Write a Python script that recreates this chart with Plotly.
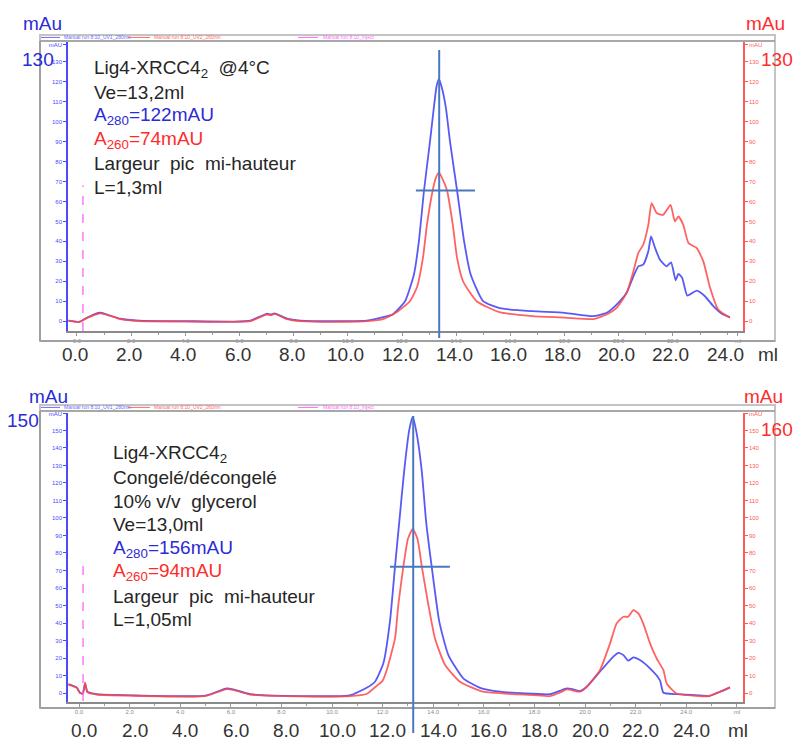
import plotly.graph_objects as go

# the page puts the figure 8 px in from the window corner, so the figure is
# 8 px smaller than the window and all placements are given in window pixels
OFF = 8
W, H = 801 - OFF, 740 - OFF

# ---- run 1 : Lig4-XRCC4 @4°C (ml, mAU) ----
top_ml_280 = [-0.32, 0.1, 0.36, 0.85, 1.1, 1.6, 2.3, 4.0, 5.8, 6.4, 7.0, 7.15, 7.3, 7.75, 8.25,
              10.0, 10.7, 11.3, 11.67, 12.11, 12.44, 12.62, 12.81, 13.03, 13.17, 13.27, 13.36,
              13.46, 13.62, 13.77, 14.03, 14.29, 14.53, 14.99, 15.6, 16.8, 18.0, 19.05, 19.55,
              19.92, 20.29, 20.54, 20.72, 20.9, 21.09, 21.19, 21.34, 21.52, 21.77, 21.93, 22.1,
              22.2, 22.34, 22.53, 22.88, 23.18, 23.49, 23.8, 24.1]
top_mau_280 = [0.3, -0.3, 1.7, 4.2, 3.3, 1.2, 0.3, 0.0, -0.2, 0.3, 3.7, 3.3, 3.9, 1.3, 0.3,
               0.0, 0.3, 2.0, 3.5, 10.0, 23.5, 40.0, 65.5, 90.0, 106.7, 117.5, 121.5,
               117.5, 106.7, 90.0, 65.5, 40.0, 23.5, 10.0, 6.5, 5.0, 4.2, 2.5, 4.2,
               8.3, 14.2, 22.5, 27.5, 28.3, 35.0, 42.5, 36.7, 30.8, 27.5, 29.5, 20.5,
               23.7, 21.7, 12.8, 15.3, 12.5, 7.5, 3.7, 2.0]

top_ml_260 = [-0.32, 0.1, 0.36, 0.85, 1.1, 1.6, 2.3, 4.0, 5.8, 6.4, 7.0, 7.15, 7.3, 7.75, 8.25,
              10.0, 10.7, 11.3, 11.85, 12.29, 12.55, 12.77, 12.92, 13.13, 13.25, 13.36, 13.47,
              13.66, 13.87, 14.03, 14.25, 14.75, 15.6, 16.8, 18.0, 19.05, 19.55, 19.92, 20.29,
              20.54, 20.72, 20.9, 21.09, 21.21, 21.4, 21.64, 21.91, 22.07, 22.2, 22.38, 22.57,
              22.87, 23.12, 23.37, 23.67, 24.1]
top_mau_260 = [0.3, -0.3, 1.5, 3.9, 3.3, 1.0, 0.0, -0.2, -0.4, 0.0, 3.3, 3.0, 3.6, 1.0, 0.0,
               -0.3, 0.0, 1.0, 5.0, 10.0, 17.0, 31.7, 48.5, 65.5, 72.0, 74.5, 72.0,
               65.5, 48.5, 31.7, 20.0, 10.0, 4.5, 2.5, 1.8, 1.0, 3.3, 6.7, 14.2,
               25.0, 34.2, 38.3, 48.3, 59.2, 54.2, 53.3, 58.3, 50.0, 52.5, 48.3, 39.2,
               36.7, 30.0, 16.7, 5.8, 1.7]

# ---- run 2 : congelé/décongelé, 10% glycerol ----
bot_ml_280 = [-0.42, -0.09, 0.04, 0.15, 0.24, 0.33, 0.7, 2.15, 4.78, 5.05, 5.84, 6.1, 6.76,
              8.74, 10.7, 11.37, 11.7, 12.03, 12.29, 12.49, 12.66, 12.85, 13.05, 13.19, 13.35,
              13.55, 13.72, 13.94, 14.24, 14.6, 15.19, 15.85, 16.64, 18.62, 19.0, 19.28, 19.54,
              19.8, 20.07, 20.59, 21.12, 21.32, 21.52, 21.71, 21.91, 22.17, 22.57, 22.96, 23.1,
              23.62, 24.55, 24.9, 25.34, 25.73]
bot_mau_280 = [5.1, 3.2, 0.2, -0.2, 5.5, 0.8, -0.6, -1.3, -1.7, -1.3, 2.7, 2.1, -0.6,
               -1.7, -1.3, 3.0, 6.5, 17.0, 40.8, 72.2, 97.9, 126.5, 150.0, 157.9, 148.0,
               126.5, 97.9, 72.2, 40.8, 21.7, 8.4, 3.0, 0.8, -0.6, 1.3, 2.7, 2.1,
               1.1, 3.6, 12.2, 20.8, 23.0, 21.7, 18.5, 20.4, 18.9, 14.1, 7.4, 0.2,
               -0.6, -1.3, -1.7, 0.8, 3.3]

bot_ml_260 = [-0.42, -0.09, 0.04, 0.15, 0.24, 0.33, 0.7, 2.15, 4.78, 5.05, 5.84, 6.1, 6.76,
              8.74, 10.7, 11.37, 11.63, 12.0, 12.16, 12.49, 12.62, 12.82, 13.0, 13.19, 13.38,
              13.55, 13.81, 14.07, 14.47, 15.06, 15.97, 17.96, 18.62, 19.0, 19.28, 19.8, 20.07,
              20.59, 20.99, 21.25, 21.52, 21.71, 21.91, 22.11, 22.3, 22.57, 22.83, 23.1, 23.23,
              23.62, 24.55, 24.9, 25.34, 25.73]
bot_mau_260 = [4.8, 3.0, 0.0, -0.4, 6.0, 0.6, -0.8, -1.5, -1.9, -1.5, 2.3, 1.8, -0.8,
               -1.9, -1.7, -0.5, 2.5, 7.0, 13.0, 31.2, 50.3, 72.2, 88.0, 93.7, 88.0,
               72.2, 50.3, 31.2, 16.0, 6.5, 0.8, -1.1, -1.7, 0.2, 2.1, 0.8, 3.6,
               13.1, 28.4, 39.8, 43.6, 43.6, 47.4, 45.5, 39.8, 28.4, 19.8, 13.1, 5.5,
               -0.2, -1.7, -1.7, 0.8, 3.3]

# peak marks: position of apex, half-height level and its limits (ml, mAU)
top_peak_ml, top_half_mau, top_half_ml = 13.37, 65.5, (12.51, 14.69)
bot_peak_ml, bot_half_mau, bot_half_ml = 13.21, 72.2, (12.29, 14.66)
top_inject_ml, bot_inject_ml = 0.22, 0.16

# tick labels
top_small_ticks = [0, 2, 4, 6, 8, 10, 12, 14, 16, 18, 20, 22]
bot_small_ticks = [0, 2, 4, 6, 8, 10, 12, 14, 16, 18, 20, 22, 24]
big_x_labels = [0, 2, 4, 6, 8, 10, 12, 14, 16, 18, 20, 22, 24]
top_y_ticks = list(range(0, 131, 10))
bot_y_ticks = list(range(0, 151, 10))

top_notes = [("Lig4-XRCC4<sub>2</sub>\u00a0\u00a0@4°C", "#262626"),
             ("Ve=13,2ml", "#262626"),
             ("A<sub>280</sub>=122mAU", "#2b2bd6"),
             ("A<sub>260</sub>=74mAU", "#ff2b2b"),
             ("Largeur\u00a0 pic\u00a0 mi-hauteur", "#262626"),
             ("L=1,3ml", "#262626")]
bot_notes = [("Lig4-XRCC4<sub>2</sub>", "#262626"),
             ("Congelé/décongelé", "#262626"),
             ("10% v/v\u00a0 glycerol", "#262626"),
             ("Ve=13,0ml", "#262626"),
             ("A<sub>280</sub>=156mAU", "#2b2bd6"),
             ("A<sub>260</sub>=94mAU", "#ff2b2b"),
             ("Largeur\u00a0 pic\u00a0 mi-hauteur", "#262626"),
             ("L=1,05ml", "#262626")]

BLUE = "rgba(60,60,245,0.85)"
RED = "rgba(255,70,70,0.85)"
MARK = "#4a78c0"
FONT = "Liberation Sans, Arial, sans-serif"


def px(x):
    return (x - OFF) / W


def py(y):
    return 1 - (y - OFF) / H


fig = go.Figure()
for xs, ys, col, ax, ay in [
    (top_ml_280, top_mau_280, BLUE, "x", "y"),
    (top_ml_260, top_mau_260, RED, "x", "y2"),
    (bot_ml_280, bot_mau_280, BLUE, "x2", "y3"),
    (bot_ml_260, bot_mau_260, RED, "x2", "y4"),
]:
    fig.add_trace(go.Scatter(x=xs, y=ys, xaxis=ax, yaxis=ay, mode="lines",
                             line=dict(color=col, width=1.8, shape="spline", smoothing=0.5),
                             hoverinfo="skip", showlegend=False))


def xaxis_cfg(rng, ticks, last):
    return dict(domain=[px(68), px(743)], range=rng, showgrid=False, zeroline=False,
                showline=True, linecolor="#8a8a8a", linewidth=1.5,
                tickmode="array", tickvals=ticks + [last],
                ticktext=[f"{v:.1f}" for v in ticks] + ["ml"],
                ticks="outside", ticklen=3, tickcolor="#9a9a9a",
                minor=dict(dtick=1, tick0=0, ticks="outside", ticklen=2, tickcolor="#9a9a9a"),
                tickfont=dict(size=6, color="#8a8a8a", family=FONT))


def yaxis_cfg(dom, rng, ticks, top, col, side, overlay=None):
    d = dict(range=rng, showgrid=False, zeroline=False, showline=True,
             linecolor=col, linewidth=1.5, side=side,
             tickmode="array", tickvals=ticks + [top],
             ticktext=[str(v) for v in ticks] + ["mAU"],
             ticks="outside", ticklen=3, tickcolor=col,
             tickfont=dict(size=6, color=col, family=FONT))
    if overlay:
        d["overlaying"] = overlay
    else:
        d["domain"] = dom
    return d


fig.update_layout(
    width=W, height=H, margin=dict(l=0, r=0, t=0, b=0),
    paper_bgcolor="white", plot_bgcolor="white", showlegend=False,
    xaxis=dict(anchor="y", **xaxis_cfg([-0.332, 24.585], top_small_ticks, 24.4)),
    yaxis=dict(anchor="x", **yaxis_cfg([py(330), py(40)], [-5, 140], top_y_ticks, 138.5,
                                       "#4a4aff", "left")),
    yaxis2=dict(anchor="x", **yaxis_cfg(None, [-5, 140], top_y_ticks, 138.5,
                                        "#ff5a5a", "right", overlay="y")),
    xaxis2=dict(anchor="y3", **xaxis_cfg([-0.435, 26.245], bot_small_ticks, 26.0)),
    yaxis3=dict(anchor="x2", **yaxis_cfg([py(702), py(412)], [-5.14, 160], bot_y_ticks, 159.5,
                                         "#4a4aff", "left")),
    yaxis4=dict(anchor="x2", **yaxis_cfg(None, [-5.14, 160], bot_y_ticks, 159.5,
                                         "#ff5a5a", "right", overlay="y3")),
)

shapes = []
ann = []

# grey frames around each chromatogram, with the legend strip on top
for top, bottom in [(33, 340), (404, 708)]:
    shapes.append(dict(type="rect", xref="paper", yref="paper", x0=px(40), x1=px(775),
                       y0=py(bottom), y1=py(top), line=dict(color="#c4c4c4", width=2)))
    shapes.append(dict(type="line", xref="paper", yref="paper", x0=px(40), x1=px(775),
                       y0=py(top + 6), y1=py(top + 6), line=dict(color="#a8a8a8", width=2)))
    shapes.append(dict(type="line", xref="paper", yref="paper", x0=px(40), x1=px(40),
                       y0=py(bottom), y1=py(top + 6), line=dict(color="#a0a0a0", width=2)))
    shapes.append(dict(type="line", xref="paper", yref="paper", x0=px(40), x1=px(775),
                       y0=py(bottom), y1=py(bottom), line=dict(color="#a0a0a0", width=2)))
    ly = top + 2.5
    for x0, x1, tx, col, txt in [(41, 60, 62, "#6a6aff", "Manual run 8:10_UV1_280nm"),
                                 (128, 150, 152, "#ff6a6a", "Manual run 8:10_UV2_260nm"),
                                 (298, 318, 321, "#ff66ff", "Manual run 8:10_Inject")]:
        shapes.append(dict(type="line", xref="paper", yref="paper", x0=px(x0), x1=px(x1),
                           y0=py(ly), y1=py(ly), line=dict(color=col, width=1)))
        ann.append(dict(xref="paper", yref="paper", x=px(tx), y=py(ly), text=txt,
                        showarrow=False, xanchor="left", yanchor="middle",
                        font=dict(size=5, color=col, family=FONT)))

# peak marks
for xa, ya, peak, half, (h0, h1), ytop, ybot in [
    ("x", "y", top_peak_ml, top_half_mau, top_half_ml, 48, 337),
    ("x2", "y3", bot_peak_ml, bot_half_mau, bot_half_ml, 415, 733),
]:
    shapes.append(dict(type="line", xref=xa, yref="paper", x0=peak, x1=peak,
                       y0=py(ybot), y1=py(ytop), line=dict(color=MARK, width=2)))
    shapes.append(dict(type="line", xref=xa, yref=ya, x0=h0, x1=h1, y0=half, y1=half,
                       line=dict(color=MARK, width=2)))

# injection marks
for xa, inj, ytop, ybot in [("x", top_inject_ml, 184, 330), ("x2", bot_inject_ml, 557, 701)]:
    shapes.append(dict(type="line", xref=xa, yref="paper", x0=inj, x1=inj,
                       y0=py(ybot), y1=py(ytop),
                       line=dict(color="#ff55ff", width=1.2, dash="dash")))

# big axis labels pasted under each chromatogram
for ax, yl, unit_x, shift in [("x", 353, 768, -2), ("x2", 730, 738, 5)]:
    for v in big_x_labels:
        ann.append(dict(xref=ax, yref="paper", x=v, y=py(yl), text=f"{v:.1f}",
                        showarrow=False, xanchor="center", yanchor="middle", xshift=shift,
                        font=dict(size=19, color="#333333", family=FONT)))
    ann.append(dict(xref="paper", yref="paper", x=px(unit_x), y=py(yl), text="ml",
                    showarrow=False, xanchor="center", yanchor="middle",
                    font=dict(size=19, color="#333333", family=FONT)))

for x, y, txt, col in [(42, 22, "mAu", "#2b2bd6"), (38, 58, "130", "#2b2bd6"),
                       (765, 22, "mAu", "#ff2b2b"), (777, 58, "130", "#ff2b2b"),
                       (48, 396, "mAu", "#2b2bd6"), (23, 420, "150", "#2b2bd6"),
                       (763, 396, "mAu", "#ff2b2b"), (777, 429, "160", "#ff2b2b")]:
    ann.append(dict(xref="paper", yref="paper", x=px(x), y=py(y), text=txt,
                    showarrow=False, xanchor="center", yanchor="middle",
                    font=dict(size=19, color=col, family=FONT)))

# notes
for notes, x0, y0, step in [(top_notes, 92, 67, 23.8), (bot_notes, 111, 453, 23.8)]:
    for i, (txt, col) in enumerate(notes):
        ann.append(dict(xref="paper", yref="paper", x=px(x0), y=py(y0 + i * step), text=txt,
                        showarrow=False, xanchor="left", yanchor="middle",
                        font=dict(size=19, color=col, family=FONT)))

fig.update_layout(shapes=shapes, annotations=ann)
fig.write_html("out.html")
